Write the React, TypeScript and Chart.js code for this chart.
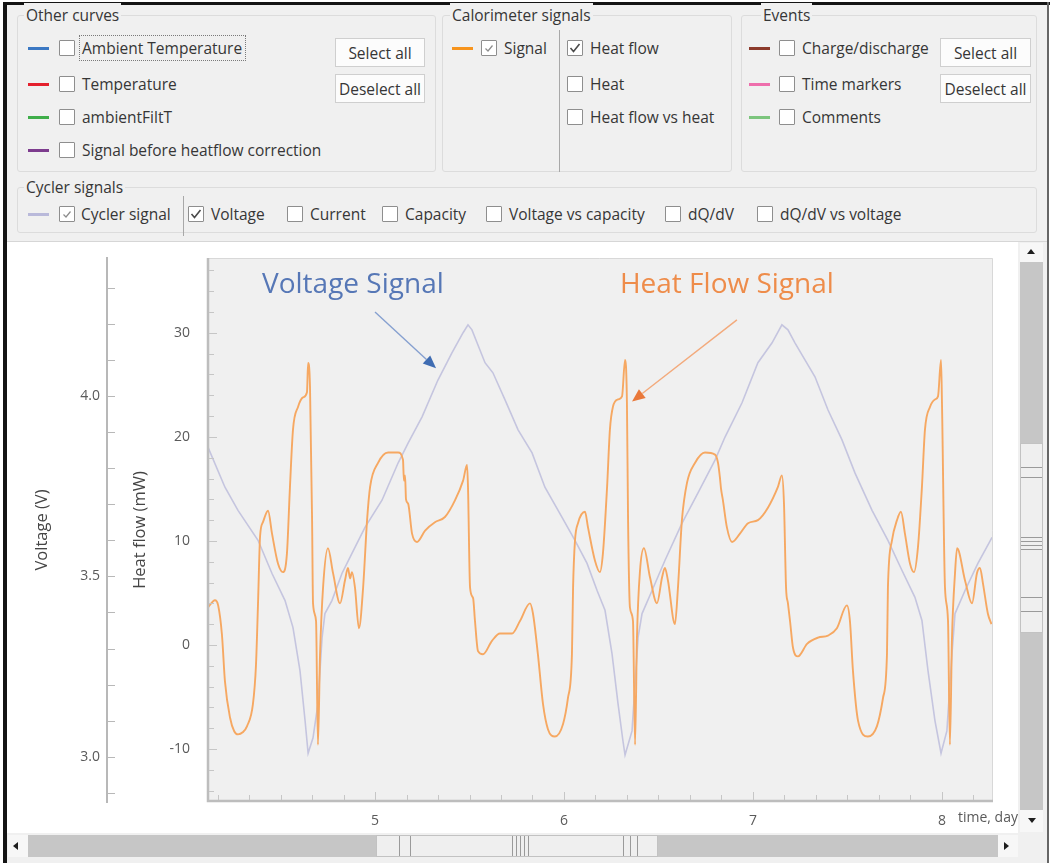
import React, { useEffect, useRef } from 'react';
import { Chart, registerables } from 'chart.js';

Chart.register(...registerables);

const UI_FONT = '"Open Sans", "Noto Sans", "DejaVu Sans", sans-serif';
const ANN_FONT = '"Open Sans", "Noto Sans", sans-serif';

// ---------------- chart data ----------------
const hfDays = [
  4.116, 4.153, 4.17, 4.19, 4.206, 4.233, 4.255, 4.275, 4.3, 4.323, 4.354, 4.37, 4.381, 4.392, 4.407, 4.434,
  4.455, 4.487, 4.513, 4.534, 4.55, 4.566, 4.593, 4.619, 4.64, 4.646, 4.656, 4.667, 4.672, 4.688, 4.698, 4.709,
  4.725, 4.751, 4.778, 4.815, 4.841, 4.857, 4.868, 4.878, 4.894, 4.915, 4.937, 4.958, 4.974, 5.016, 5.069, 5.122,
  5.148, 5.153, 5.159, 5.164, 5.175, 5.196, 5.222, 5.265, 5.317, 5.37, 5.423, 5.466, 5.487, 5.492, 5.503, 5.519,
  5.529, 5.545, 5.571, 5.619, 5.661, 5.725, 5.767, 5.82, 5.836, 5.862, 5.889, 5.915, 5.952, 5.995, 6.021, 6.042,
  6.048, 6.058, 6.074, 6.111, 6.127, 6.164, 6.19, 6.206, 6.228, 6.243, 6.259, 6.286, 6.307, 6.323, 6.333, 6.339,
  6.349, 6.365, 6.376, 6.386, 6.402, 6.423, 6.455, 6.492, 6.519, 6.534, 6.55, 6.587, 6.603, 6.624, 6.651, 6.693,
  6.746, 6.799, 6.815, 6.825, 6.831, 6.841, 6.862, 6.889, 6.931, 6.974, 7.026, 7.079, 7.132, 7.153, 7.164, 7.175,
  7.185, 7.196, 7.212, 7.238, 7.286, 7.344, 7.397, 7.444, 7.497, 7.513, 7.529, 7.556, 7.608, 7.656, 7.688, 7.709,
  7.714, 7.735, 7.762, 7.783, 7.804, 7.831, 7.852, 7.873, 7.894, 7.91, 7.937, 7.963, 7.979, 7.995, 8.0, 8.016,
  8.032, 8.042, 8.053, 8.069, 8.08, 8.122, 8.159, 8.185, 8.201, 8.217, 8.243, 8.262,
];
const hfValues = [
  3.6, 4.3, 3.8, 1.0, -3.5, -7.0, -8.3, -8.6, -8.4, -7.8, -5.7, -2.0, 4.0, 10.5, 11.8, 12.9,
  10.7, 7.8, 7.0, 8.8, 15.2, 20.7, 22.9, 23.8, 24.3, 27.1, 24.8, 12.0, 4.0, 2.3, -9.6, -1.0,
  5.5, 9.3, 6.9, 4.0, 6.2, 7.4, 6.4, 7.0, 5.5, 1.6, 5.5, 12.0, 15.2, 17.5, 18.5, 18.5,
  17.8, 15.8, 16.3, 14.0, 13.6, 10.7, 9.9, 11.0, 11.8, 12.3, 13.9, 15.8, 17.3, 15.2, 5.5, 4.5,
  2.3, -0.6, -0.9, 0.4, 1.1, 1.1, 2.3, 4.0, 3.0, -0.9, -5.7, -8.1, -8.8, -7.6, -5.1, -0.9,
  5.5, 10.0, 11.7, 12.8, 11.3, 8.1, 7.0, 8.8, 15.2, 20.7, 22.9, 23.6, 23.9, 27.4, 23.3, 12.0,
  3.6, 2.3, -9.6, 0.7, 7.1, 9.3, 6.5, 4.0, 6.5, 7.4, 6.2, 2.0, 5.5, 12.0, 15.6, 17.5,
  18.5, 18.3, 17.5, 16.1, 15.0, 13.9, 11.3, 9.9, 10.7, 11.7, 12.0, 13.2, 15.2, 16.3, 13.6, 5.5,
  4.0, 2.3, -0.3, -1.1, 0.1, 0.7, 0.9, 1.6, 3.8, 2.3, -2.5, -7.3, -8.8, -7.8, -5.1, -0.9,
  5.5, 10.0, 12.0, 12.8, 10.7, 7.8, 7.0, 9.4, 15.2, 20.7, 22.9, 23.6, 23.9, 27.4, 23.3, 5.5,
  2.3, -9.6, 0.7, 6.9, 9.3, 6.2, 4.0, 6.9, 7.4, 5.9, 3.0, 2.0,
];
const voltDays = [
  4.116, 4.206, 4.275, 4.381, 4.455, 4.524, 4.566, 4.603, 4.63, 4.646, 4.672, 4.698, 4.72, 4.735, 4.772, 4.825,
  4.878, 4.947, 5.037, 5.122, 5.175, 5.249, 5.333, 5.407, 5.466, 5.492, 5.513, 5.54, 5.582, 5.624, 5.688, 5.757,
  5.831, 5.899, 5.989, 6.058, 6.122, 6.175, 6.217, 6.254, 6.286, 6.312, 6.323, 6.36, 6.392, 6.413, 6.466, 6.534,
  6.624, 6.709, 6.799, 6.852, 6.942, 7.026, 7.101, 7.153, 7.185, 7.222, 7.275, 7.328, 7.397, 7.471, 7.54, 7.63,
  7.714, 7.788, 7.857, 7.894, 7.926, 7.963, 7.995, 8.026, 8.053, 8.069, 8.122, 8.19, 8.265,
];
const voltValues = [
  3.858, 3.747, 3.683, 3.6, 3.508, 3.433, 3.358, 3.239, 3.1, 3.01, 3.053, 3.147, 3.331, 3.397, 3.433, 3.508,
  3.564, 3.636, 3.711, 3.814, 3.869, 3.942, 4.044, 4.119, 4.175, 4.197, 4.183, 4.147, 4.092, 4.064, 3.989, 3.906,
  3.842, 3.747, 3.664, 3.6, 3.536, 3.461, 3.406, 3.286, 3.147, 3.044, 3.005, 3.072, 3.331, 3.397, 3.461, 3.544,
  3.647, 3.731, 3.822, 3.886, 3.981, 4.092, 4.147, 4.197, 4.183, 4.147, 4.1, 4.053, 3.961, 3.878, 3.786, 3.683,
  3.6, 3.517, 3.442, 3.378, 3.239, 3.1, 3.01, 3.072, 3.286, 3.397, 3.461, 3.536, 3.608,
];
const dayTicks = [5, 6, 7, 8];
const hfTicks = [-10, 0, 10, 20, 30];
const voltTicks = [3.0, 3.5, 4.0];
const dayRange = [4.111, 8.27];
const hfRange = [-15.1, 37.2];
const voltRange = [2.875, 4.382];

// annotations (data coordinates: day, heat flow)
const voltageNote = { text: 'Voltage Signal', x: 4.402, y: 34.6, from: [5.0, 32.0], to: [5.323, 26.6] };
const heatNote = { text: 'Heat Flow Signal', x: 6.296, y: 34.6, from: [6.915, 31.25], to: [6.36, 23.4] };

// ---------------- panel content ----------------
const otherCurves = [
  { label: 'Ambient Temperature', color: '#3b78c3' },
  { label: 'Temperature', color: '#e4202d' },
  { label: 'ambientFiltT', color: '#3fae4a' },
  { label: 'Signal before heatflow correction', color: '#7d3c8e' },
];
const calorimeterViews = [
  { label: 'Heat flow', checked: true },
  { label: 'Heat', checked: false },
  { label: 'Heat flow vs heat', checked: false },
];
const eventCurves = [
  { label: 'Charge/discharge', color: '#8c3b2c' },
  { label: 'Time markers', color: '#ee6eac' },
  { label: 'Comments', color: '#7cc57d' },
];
const cyclerViews = [
  { label: 'Voltage', checked: true },
  { label: 'Current', checked: false },
  { label: 'Capacity', checked: false },
  { label: 'Voltage vs capacity', checked: false },
  { label: 'dQ/dV', checked: false },
  { label: 'dQ/dV vs voltage', checked: false },
];
const cyclerX = [188, 287, 382, 486, 665, 757];
const rowY = [48, 84, 117, 150];
const TITLE_Y = 15;
const CYCLER_TITLE_Y = 187;
const CYCLER_ROW_Y = 214;

const TEXT_COLOR = '#363636';
const UI_SIZE = 15.5;

function Check({ x, y, checked, light }: { x: number; y: number; checked?: boolean; light?: boolean }) {
  return (
    <div
      style={{
        position: 'absolute', left: x, top: y - 8, width: 16, height: 16, boxSizing: 'border-box',
        background: '#fff', border: '1px solid #8e8e8e', borderRadius: 1,
      }}
    >
      {checked && (
        <svg width={14} height={14} style={{ position: 'absolute', left: 0, top: 0 }}>
          <polyline
            points={light ? '3.5,7.5 6,10 10.5,4.5' : '2.5,7 5.5,10.5 11.5,3'}
            fill="none"
            stroke={light ? '#8c8c8c' : '#4a4a4a'}
            strokeWidth={light ? 1.2 : 1.6}
          />
        </svg>
      )}
    </div>
  );
}

function Txt({ x, y, children }: { x: number; y: number; children: React.ReactNode }) {
  return (
    <div
      style={{
        position: 'absolute', left: x, top: y - 12, height: 24, lineHeight: '24px', fontSize: UI_SIZE,
        color: TEXT_COLOR, whiteSpace: 'nowrap', fontFamily: UI_FONT,
      }}
    >
      {children}
    </div>
  );
}

function Swatch({ x, y, color, w = 21 }: { x: number; y: number; color: string; w?: number }) {
  return <div style={{ position: 'absolute', left: x, top: y - 1, width: w, height: 3, background: color }} />;
}

function Btn({ x, y, w, h, label }: { x: number; y: number; w: number; h: number; label: string }) {
  return (
    <div
      style={{
        position: 'absolute', left: x, top: y, width: w, height: h, boxSizing: 'border-box',
        background: '#fcfcfc', border: '1px solid #cfcfcf', fontSize: UI_SIZE, color: TEXT_COLOR,
        display: 'flex', alignItems: 'center', justifyContent: 'center', fontFamily: UI_FONT, whiteSpace: 'nowrap',
      }}
    >
      {label}
    </div>
  );
}

function Box({ x, y, w, h }: { x: number; y: number; w: number; h: number }) {
  return (
    <div
      style={{
        position: 'absolute', left: x, top: y, width: w, height: h, boxSizing: 'border-box',
        border: '1px solid #dcdcdc', borderRadius: 3,
      }}
    />
  );
}

function Title({ x, y, text }: { x: number; y: number; text: string }) {
  return (
    <div
      style={{
        position: 'absolute', left: x - 2, top: y - 12, height: 24, lineHeight: '24px', fontSize: UI_SIZE,
        padding: '0 2px', background: '#f0f0f0', color: TEXT_COLOR, whiteSpace: 'nowrap', fontFamily: UI_FONT,
      }}
    >
      {text}
    </div>
  );
}

function Tri({ x, y, dir }: { x: number; y: number; dir: 'up' | 'down' | 'left' | 'right' }) {
  const pts = {
    up: '0,5 4,0 8,5',
    down: '0,0 8,0 4,5',
    left: '5,0 5,8 0,4',
    right: '0,0 0,8 5,4',
  }[dir];
  return (
    <svg width={8} height={8} style={{ position: 'absolute', left: x - 4, top: y - 4 }}>
      <polygon points={pts} fill="#1e1e1e" />
    </svg>
  );
}

// ---------------- chart plugin ----------------
function drawArrow(ctx: CanvasRenderingContext2D, x1: number, y1: number, x2: number, y2: number, lineColor: string, headColor: string) {
  const ang = Math.atan2(y2 - y1, x2 - x1);
  const hl = 13;
  const hw = 5.5;
  const bx = x2 - hl * Math.cos(ang);
  const by = y2 - hl * Math.sin(ang);
  ctx.strokeStyle = lineColor;
  ctx.lineWidth = 1.4;
  ctx.beginPath();
  ctx.moveTo(x1, y1);
  ctx.lineTo(bx, by);
  ctx.stroke();
  ctx.fillStyle = headColor;
  ctx.beginPath();
  ctx.moveTo(x2, y2);
  ctx.lineTo(bx + hw * Math.sin(ang), by - hw * Math.cos(ang));
  ctx.lineTo(bx - hw * Math.sin(ang), by + hw * Math.cos(ang));
  ctx.closePath();
  ctx.fill();
}

const decorPlugin = {
  id: 'decor',
  beforeDraw(chart: any) {
    const { ctx, chartArea: a } = chart;
    ctx.save();
    ctx.fillStyle = '#f0f0f0';
    ctx.fillRect(a.left, a.top, a.right - a.left, a.bottom - a.top);
    ctx.restore();
  },
  afterDraw(chart: any) {
    const { ctx, chartArea: a, scales } = chart;
    const xs = scales.x;
    const yH = scales.yH;
    const yV = scales.yV;
    ctx.save();
    // plot frame
    ctx.strokeStyle = '#d8d8d8';
    ctx.lineWidth = 1;
    ctx.beginPath();
    ctx.moveTo(a.left, a.top + 0.5);
    ctx.lineTo(a.right - 0.5, a.top + 0.5);
    ctx.lineTo(a.right - 0.5, a.bottom);
    ctx.stroke();
    ctx.strokeStyle = '#bdbdbd';
    ctx.lineWidth = 2.5;
    ctx.beginPath();
    ctx.moveTo(a.left + 1, a.top);
    ctx.lineTo(a.left + 1, a.bottom - 1);
    ctx.lineTo(a.right, a.bottom - 1);
    ctx.stroke();

    // inner tick marks
    ctx.strokeStyle = '#c6c6c6';
    ctx.lineWidth = 1;
    ctx.beginPath();
    for (let v = -14; v <= 36; v += 2) {
      const py = Math.round(yH.getPixelForValue(v)) + 0.5;
      const len = v % 10 === 0 ? 8 : 5;
      ctx.moveTo(a.left + 2, py);
      ctx.lineTo(a.left + 2 + len, py);
    }
    for (let i = 25; i <= 49; i++) {
      const px = Math.round(xs.getPixelForValue(i / 6)) + 0.5;
      const len = i % 6 === 0 ? 8 : 5;
      ctx.moveTo(px, a.bottom - 2);
      ctx.lineTo(px, a.bottom - 2 - len);
    }
    ctx.stroke();

    // voltage axis ticks (to the right of its line)
    ctx.strokeStyle = '#b8b8b8';
    ctx.beginPath();
    const vx = yV.right + 1;
    for (let i = 29; i <= 43; i++) {
      const py = Math.round(yV.getPixelForValue(i / 10)) + 0.5;
      ctx.moveTo(vx, py);
      ctx.lineTo(vx + 7, py);
    }
    ctx.stroke();

    // annotations
    ctx.textBaseline = 'middle';
    ctx.textAlign = 'left';
    ctx.font = `28px ${ANN_FONT}`;
    ctx.fillStyle = '#5677b6';
    ctx.fillText(voltageNote.text, xs.getPixelForValue(voltageNote.x), yH.getPixelForValue(voltageNote.y));
    ctx.fillStyle = '#ee8c4a';
    ctx.fillText(heatNote.text, xs.getPixelForValue(heatNote.x), yH.getPixelForValue(heatNote.y));
    drawArrow(
      ctx,
      xs.getPixelForValue(voltageNote.from[0]), yH.getPixelForValue(voltageNote.from[1]),
      xs.getPixelForValue(voltageNote.to[0]), yH.getPixelForValue(voltageNote.to[1]),
      '#86a0d0', '#3f6cb2'
    );
    drawArrow(
      ctx,
      xs.getPixelForValue(heatNote.from[0]), yH.getPixelForValue(heatNote.from[1]),
      xs.getPixelForValue(heatNote.to[0]), yH.getPixelForValue(heatNote.to[1]),
      '#f3aa7c', '#e9783a'
    );

    // x axis name next to the last tick label
    ctx.font = `14px ${UI_FONT}`;
    ctx.fillStyle = '#5a5a5a';
    ctx.fillText('time, days', xs.getPixelForValue(8) + 16, a.bottom + 16);
    ctx.restore();
  },
};

export default function App() {
  const ref = useRef<HTMLCanvasElement>(null);

  useEffect(() => {
    if (!ref.current) return;
    const tickFont = { family: UI_FONT, size: 14 };
    const chart = new Chart(ref.current, {
      type: 'line',
      data: {
        datasets: [
          {
            label: 'Heat flow',
            data: hfDays.map((d, i) => ({ x: d, y: hfValues[i] })),
            yAxisID: 'yH',
            borderColor: '#f6a862',
            borderWidth: 1.9,
            pointRadius: 0,
            cubicInterpolationMode: 'monotone',
          },
          {
            label: 'Voltage',
            data: voltDays.map((d, i) => ({ x: d, y: voltValues[i] })),
            yAxisID: 'yV',
            borderColor: '#c5c5df',
            borderWidth: 1.6,
            pointRadius: 0,
            tension: 0,
          },
        ],
      },
      options: {
        animation: false,
        responsive: false,
        devicePixelRatio: 1,
        events: [],
        layout: { padding: { left: 0, top: 15, right: 25, bottom: 0 } },
        plugins: { legend: { display: false }, tooltip: { enabled: false } },
        scales: {
          x: {
            type: 'linear',
            position: 'bottom',
            min: dayRange[0],
            max: dayRange[1],
            afterBuildTicks: (s: any) => { s.ticks = dayTicks.map((v) => ({ value: v })); },
            afterFit: (s: any) => { s.height = 31; },
            grid: { display: false },
            border: { display: false },
            ticks: { padding: 3, color: '#5a5a5a', font: tickFont, autoSkip: false, maxRotation: 0, callback: (v: any) => String(v) },
          },
          yH: {
            type: 'linear',
            position: 'left',
            weight: 0,
            min: hfRange[0],
            max: hfRange[1],
            afterBuildTicks: (s: any) => { s.ticks = hfTicks.map((v) => ({ value: v })); },
            afterFit: (s: any) => { s.width = 100; },
            grid: { display: true, drawOnChartArea: false, drawTicks: true, tickLength: 17, color: 'rgba(0,0,0,0)', tickColor: 'rgba(0,0,0,0)' },
            border: { display: false },
            ticks: { padding: 0, color: '#5a5a5a', font: tickFont, callback: (v: any) => String(v) },
            title: { display: true, text: 'Heat flow (mW)', color: '#454545', font: { family: UI_FONT, size: 16.5 }, padding: { top: 23, bottom: 0 } },
          },
          yV: {
            type: 'linear',
            position: 'left',
            weight: 1,
            min: voltRange[0],
            max: voltRange[1],
            afterBuildTicks: (s: any) => { s.ticks = voltTicks.map((v) => ({ value: v })); },
            afterFit: (s: any) => { s.width = 99; },
            grid: { display: true, drawOnChartArea: false, drawTicks: true, tickLength: 7, color: 'rgba(0,0,0,0)', tickColor: 'rgba(0,0,0,0)' },
            border: { display: true, color: '#b8b8b8', width: 2 },
            ticks: { padding: 0, color: '#5a5a5a', font: tickFont, callback: (v: any) => Number(v).toFixed(1) },
            title: { display: true, text: 'Voltage (V)', color: '#454545', font: { family: UI_FONT, size: 16.5 }, padding: { top: 24, bottom: 0 } },
          },
        },
      } as any,
      plugins: [decorPlugin],
    });
    return () => chart.destroy();
  }, []);

  return (
    <div style={{ position: 'fixed', left: 0, top: 0, width: 1055, height: 863, background: '#fff', overflow: 'hidden', fontFamily: UI_FONT }}>
      {/* window frame */}
      <div style={{ position: 'absolute', left: 7, top: 5, width: 1040, height: 237, background: '#f0f0f0' }} />
      <div style={{ position: 'absolute', left: 7, top: 241, width: 1040, height: 1, background: '#d6d6d6' }} />
      <div style={{ position: 'absolute', left: 3, top: 2, width: 1047, height: 3, background: '#141414' }} />
      <div style={{ position: 'absolute', left: 3, top: 2, width: 4, height: 861, background: '#141414' }} />
      <div style={{ position: 'absolute', left: 1047, top: 2, width: 2, height: 861, background: '#666' }} />

      {/* Other curves */}
      <Box x={17} y={TITLE_Y} w={419} h={172 - TITLE_Y} />
      <Title x={26} y={TITLE_Y} text="Other curves" />
      {otherCurves.map((c, i) => (
        <React.Fragment key={c.label}>
          <Swatch x={28} y={rowY[i]} color={c.color} />
          <Check x={59} y={rowY[i]} />
          <Txt x={82} y={rowY[i]}>{c.label}</Txt>
        </React.Fragment>
      ))}
      <div style={{ position: 'absolute', left: 79, top: 35, width: 167, height: 26, boxSizing: 'border-box', border: '1px dotted #7a7a7a' }} />
      <Btn x={335} y={38} w={90} h={29} label="Select all" />
      <Btn x={335} y={74} w={90} h={29} label="Deselect all" />

      {/* Calorimeter signals */}
      <Box x={442} y={TITLE_Y} w={290} h={172 - TITLE_Y} />
      <Title x={452} y={TITLE_Y} text="Calorimeter signals" />
      <Swatch x={452} y={rowY[0]} color="#f7941d" />
      <Check x={481} y={rowY[0]} checked light />
      <Txt x={504} y={rowY[0]}>Signal</Txt>
      <div style={{ position: 'absolute', left: 559, top: 30, width: 1, height: 142, background: '#a8a8a8' }} />
      {calorimeterViews.map((c, i) => (
        <React.Fragment key={c.label}>
          <Check x={567} y={rowY[i]} checked={c.checked} />
          <Txt x={590} y={rowY[i]}>{c.label}</Txt>
        </React.Fragment>
      ))}

      {/* Events */}
      <Box x={741} y={TITLE_Y} w={296} h={172 - TITLE_Y} />
      <Title x={763} y={TITLE_Y} text="Events" />
      {eventCurves.map((c, i) => (
        <React.Fragment key={c.label}>
          <Swatch x={749} y={rowY[i]} color={c.color} />
          <Check x={779} y={rowY[i]} />
          <Txt x={802} y={rowY[i]}>{c.label}</Txt>
        </React.Fragment>
      ))}
      <Btn x={940} y={38} w={91} h={29} label="Select all" />
      <Btn x={940} y={74} w={91} h={29} label="Deselect all" />

      {/* Cycler signals */}
      <Box x={17} y={CYCLER_TITLE_Y} w={1020} h={233 - CYCLER_TITLE_Y} />
      <Title x={26} y={CYCLER_TITLE_Y} text="Cycler signals" />
      <Swatch x={28} y={CYCLER_ROW_Y} color="#b9b9da" />
      <Check x={59} y={CYCLER_ROW_Y} checked light />
      <Txt x={81} y={CYCLER_ROW_Y}>Cycler signal</Txt>
      <div style={{ position: 'absolute', left: 183, top: 196, width: 1, height: 40, background: '#a8a8a8' }} />
      {cyclerViews.map((c, i) => (
        <React.Fragment key={c.label}>
          <Check x={cyclerX[i]} y={CYCLER_ROW_Y} checked={c.checked} />
          <Txt x={cyclerX[i] + 23} y={CYCLER_ROW_Y}>{c.label}</Txt>
        </React.Fragment>
      ))}

      {/* chart */}
      <canvas ref={ref} width={1010} height={590} style={{ position: 'absolute', left: 8, top: 243, width: 1010, height: 590 }} />

      {/* vertical scrollbar */}
      <div style={{ position: 'absolute', left: 1018, top: 242, width: 29, height: 621, background: '#f0f0f0' }} />
      <div style={{ position: 'absolute', left: 1020, top: 243, width: 23, height: 19, background: '#f7f7f7' }} />
      <Tri x={1031} y={253} dir="up" />
      <div style={{ position: 'absolute', left: 1020, top: 262, width: 23, height: 181, background: '#c6c6c6' }} />
      <div style={{ position: 'absolute', left: 1020, top: 443, width: 23, height: 190, boxSizing: 'border-box', background: '#efefef', border: '1px solid #c2c2c2' }} />
      {[467, 477, 537, 541, 545, 549, 597, 611].map((y) => (
        <div key={y} style={{ position: 'absolute', left: 1021, top: y, width: 21, height: 1, background: '#9a9a9a' }} />
      ))}
      <div style={{ position: 'absolute', left: 1020, top: 633, width: 23, height: 177, background: '#c6c6c6' }} />
      <div style={{ position: 'absolute', left: 1020, top: 810, width: 23, height: 22, background: '#f7f7f7' }} />
      <Tri x={1032} y={822} dir="down" />

      {/* horizontal scrollbar */}
      <div style={{ position: 'absolute', left: 7, top: 833, width: 1011, height: 30, background: '#f0f0f0' }} />
      <div style={{ position: 'absolute', left: 8, top: 835, width: 20, height: 22, background: '#f7f7f7' }} />
      <Tri x={17} y={846} dir="left" />
      <div style={{ position: 'absolute', left: 28, top: 835, width: 348, height: 22, background: '#c6c6c6' }} />
      <div style={{ position: 'absolute', left: 376, top: 835, width: 282, height: 22, boxSizing: 'border-box', background: '#efefef', border: '1px solid #c2c2c2' }} />
      {[399, 410, 512, 516, 520, 524, 528, 623, 630, 637].map((x) => (
        <div key={x} style={{ position: 'absolute', left: x, top: 836, width: 1, height: 20, background: '#9a9a9a' }} />
      ))}
      <div style={{ position: 'absolute', left: 658, top: 835, width: 340, height: 22, background: '#c6c6c6' }} />
      <div style={{ position: 'absolute', left: 998, top: 835, width: 20, height: 22, background: '#f7f7f7' }} />
      <Tri x={1008} y={846} dir="right" />
    </div>
  );
}
